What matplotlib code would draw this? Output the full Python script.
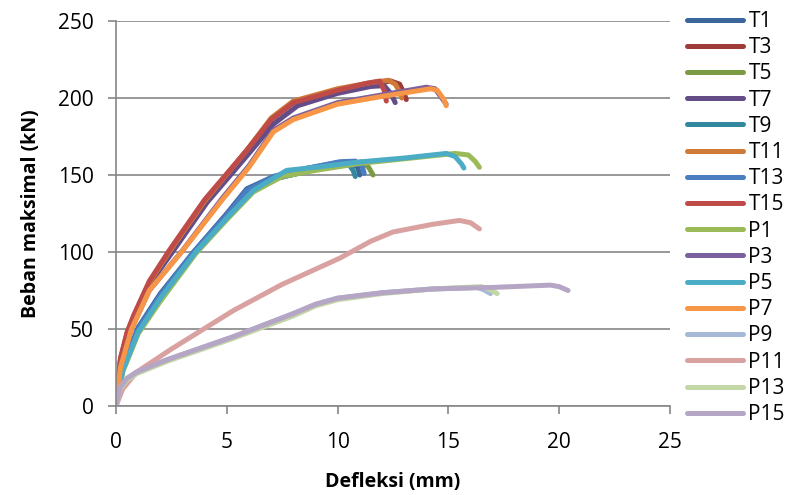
import matplotlib.pyplot as plt

# series data (deflection mm, load kN)
t1_x = [0, 0.3, 1.0, 2.0, 3.5, 5.0, 5.9, 7.1, 8.5, 10.0, 10.6, 10.9, 11.0]
t1_y = [0, 25, 51, 73, 100, 125, 141, 149, 154, 158, 158.5, 155, 150]
t3_x = [0, 0.2, 0.5, 0.8, 1.5, 2.4, 4.0, 5.9, 7.0, 8.0, 10.0, 11.5, 12.4, 12.8, 13.0, 13.1]
t3_y = [0, 30, 47, 58, 80, 100, 133, 166, 186, 197, 205, 209, 211, 209, 203, 199]
t5_x = [0, 0.3, 1.0, 2.0, 3.6, 5.0, 6.1, 7.3, 8.8, 10.4, 11.1, 11.4, 11.6]
t5_y = [0, 23, 48, 70, 100, 123, 139, 148, 153, 157, 158.5, 155, 150]
t7_x = [0, 0.2, 0.5, 0.8, 1.5, 2.5, 4.1, 6.0, 7.1, 8.2, 10.0, 11.5, 12.1, 12.4, 12.6]
t7_y = [0, 29, 46, 57, 79, 99, 132, 164, 183, 195, 203, 207.5, 208, 203, 197]
t9_x = [0, 0.3, 1.0, 2.0, 3.6, 5.0, 6.1, 7.3, 8.8, 10.0, 10.5, 10.7, 10.8]
t9_y = [0, 24, 49, 71, 100, 123, 139, 148, 153, 156.5, 157, 153, 149]
t11_x = [0, 0.2, 0.5, 0.8, 1.5, 2.4, 4.0, 5.9, 7.0, 8.0, 10.0, 11.5, 12.3, 12.6, 12.8, 12.9]
t11_y = [0, 30, 47, 58, 80, 100, 133, 166, 187, 198, 206, 210, 211.5, 209, 204, 200]
t13_x = [0, 0.3, 1.0, 2.0, 3.5, 5.0, 5.9, 7.1, 8.5, 10.1, 10.8, 11.1, 11.2]
t13_y = [0, 25, 50, 72, 100, 124, 140, 149, 154, 158.6, 159, 156, 151]
t15_x = [0, 0.2, 0.5, 0.8, 1.5, 2.4, 4.0, 5.9, 7.0, 8.0, 10.0, 11.3, 11.9, 12.1, 12.2]
t15_y = [0, 31, 48, 59, 81, 101, 134, 166, 186, 197, 205, 209.5, 211, 205, 198]
p1_x = [0, 0.3, 1.0, 2.0, 3.6, 5.0, 6.2, 7.5, 9.0, 11.0, 13.0, 15.3, 15.9, 16.2, 16.4]
p1_y = [0, 22, 47, 68, 99, 121, 139, 149, 153, 157.5, 160.5, 164, 163, 159, 155]
p3_x = [0, 0.2, 0.7, 1.5, 3.0, 4.8, 6.0, 7.1, 8.0, 10.0, 12.0, 14.0, 14.4, 14.7, 14.9]
p3_y = [0, 25, 50, 75, 101, 135, 156, 179, 187, 197, 202, 207, 206, 200, 196]
p5_x = [0, 0.3, 1.0, 2.0, 3.6, 5.0, 6.2, 7.7, 9.0, 11.0, 13.0, 14.9, 15.3, 15.6, 15.7]
p5_y = [0, 23, 48, 70, 100, 122, 140, 153, 155, 158.5, 161, 164, 162, 157, 154.5]
p7_x = [0, 0.2, 0.7, 1.5, 2.96, 4.8, 6.0, 7.1, 8.0, 10.0, 12.0, 14.2, 14.5, 14.8, 14.9]
p7_y = [0, 25, 50, 75, 100, 134, 155, 178, 186, 196, 201, 206, 205, 199, 195]
p9_x = [0, 0.18, 0.5, 0.93, 2.3, 5.3, 8.0, 9.0, 10.0, 12.0, 14.3, 16.3, 16.6, 16.9]
p9_y = [0, 12, 18, 22, 30, 45, 60, 66, 70, 73.5, 76, 77, 75.5, 73]
p11_x = [0, 0.3, 0.93, 2.5, 5.3, 7.5, 10.1, 11.5, 12.5, 14.3, 15.5, 16.0, 16.4]
p11_y = [0, 11, 22, 37, 62, 79, 96, 107, 113, 118, 120.5, 119, 115]
p13_x = [0, 0.18, 0.5, 0.93, 2.3, 5.3, 8.0, 9.0, 10.0, 12.0, 14.3, 16.5, 16.9, 17.2]
p13_y = [0, 11, 17, 21, 29, 44, 58.5, 65, 69, 73, 76, 77.5, 75.5, 73]
p15_x = [0, 0.18, 0.5, 0.93, 2.3, 5.3, 8.0, 9.0, 10.0, 12.0, 14.3, 17.0, 19.6, 20.0, 20.4]
p15_y = [0, 12, 18, 22, 30, 45, 60, 66, 70, 73.5, 76, 77, 78.5, 77.5, 75]

series = [
    ("T1", t1_x, t1_y, "#3A669C"),
    ("T3", t3_x, t3_y, "#9E3A38"),
    ("T5", t5_x, t5_y, "#7A9A44"),
    ("T7", t7_x, t7_y, "#644C86"),
    ("T9", t9_x, t9_y, "#34889E"),
    ("T11", t11_x, t11_y, "#D07A37"),
    ("T13", t13_x, t13_y, "#4A7EC0"),
    ("T15", t15_x, t15_y, "#BF4B48"),
    ("P1", p1_x, p1_y, "#9BBB59"),
    ("P3", p3_x, p3_y, "#7D60A0"),
    ("P5", p5_x, p5_y, "#4BACC6"),
    ("P7", p7_x, p7_y, "#F79646"),
    ("P9", p9_x, p9_y, "#A5B8D5"),
    ("P11", p11_x, p11_y, "#D9A2A0"),
    ("P13", p13_x, p13_y, "#C3D6A6"),
    ("P15", p15_x, p15_y, "#B5A6C6"),
]

plt.rcParams["font.family"] = ["Open Sans", "DejaVu Sans"]

fig = plt.figure(figsize=(7.86, 4.95), dpi=100)
ax = fig.add_axes([0.1476, 0.1798, 0.7048, 0.7778])

for name, xs, ys, col in series:
    ax.plot(xs, ys, color=col, lw=3.6, label=name,
            solid_capstyle="round", solid_joinstyle="round")

ax.set_xlim(0, 25)
ax.set_ylim(0, 250)
ax.set_xticks(range(0, 26, 5))
ax.set_yticks(range(0, 251, 50))
ax.grid(axis="y", color="#868686", lw=1.2)
ax.set_axisbelow(True)
for s in ["top", "right"]:
    ax.spines[s].set_visible(False)
for s in ["left", "bottom"]:
    ax.spines[s].set_color("#868686")
    ax.spines[s].set_linewidth(1.2)
ax.tick_params(colors="#868686", labelcolor="black", labelsize=15,
               length=6, width=1.2, direction="out")
ax.tick_params(axis="y", pad=10)
ax.tick_params(axis="x", pad=12.5)

ax.set_xlabel("Defleksi (mm)", fontsize=14, fontweight="bold", labelpad=14)
ax.set_ylabel("Beban maksimal (kN)", fontsize=14, fontweight="bold", labelpad=12)

ax.legend(loc="upper left", bbox_to_anchor=(0.874, 0.978),
          bbox_transform=fig.transFigure, frameon=False,
          fontsize=15, handlelength=2.7, handletextpad=0.25,
          labelspacing=0.25, borderaxespad=0, borderpad=0)

fig.savefig("out.png", dpi=100)
